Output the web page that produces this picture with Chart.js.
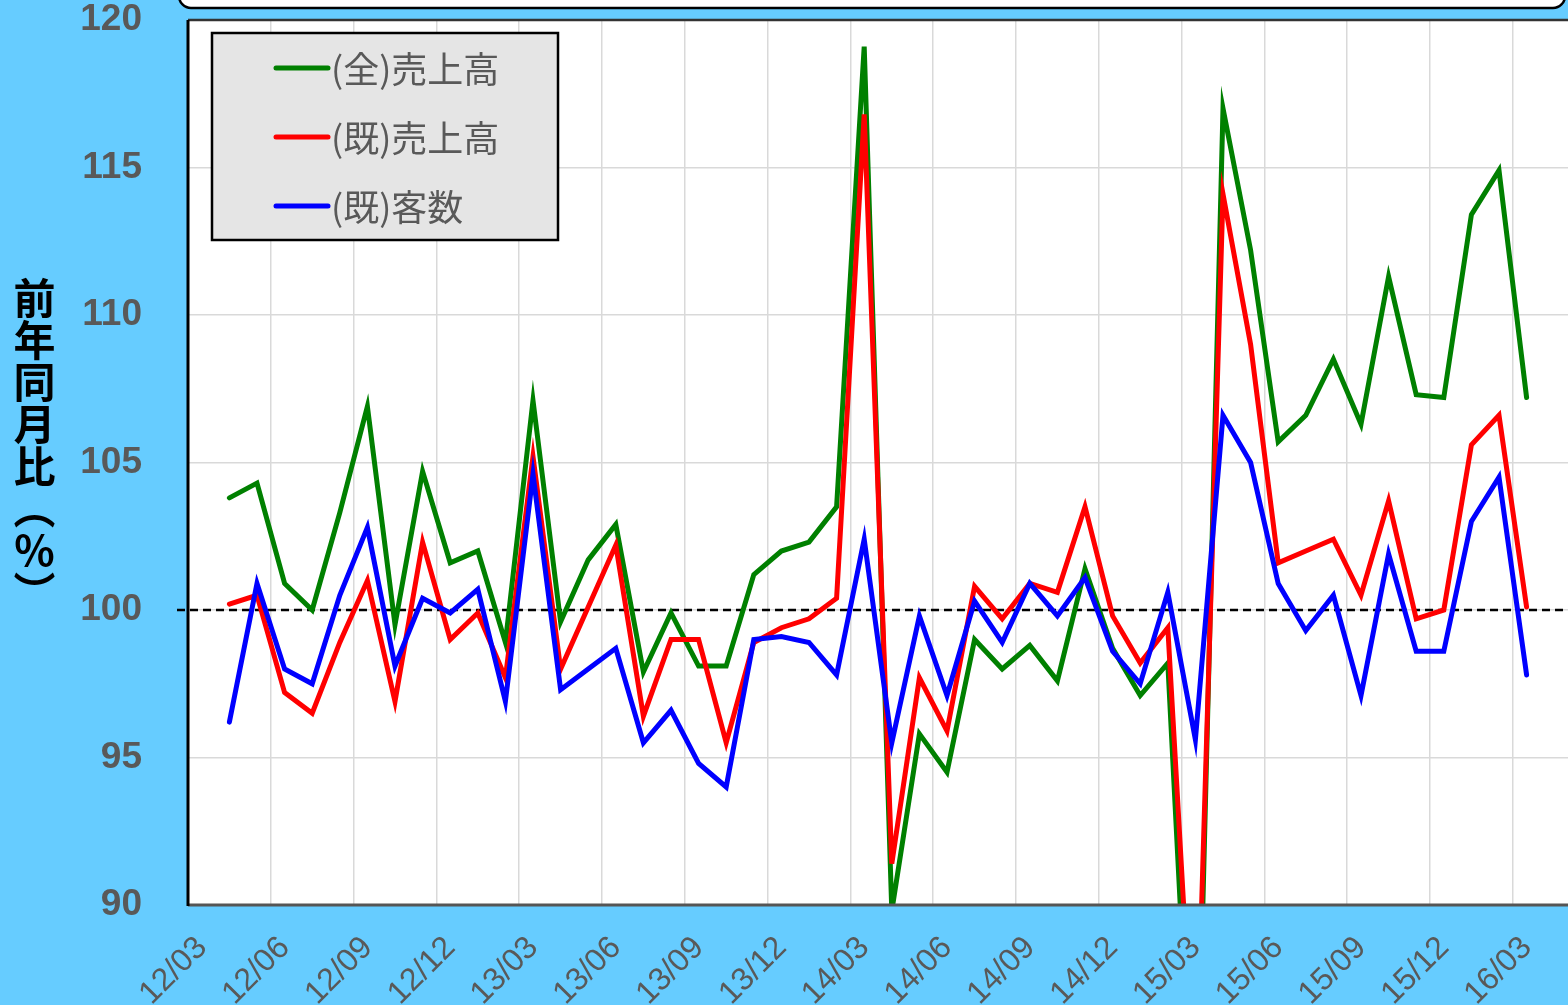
<!DOCTYPE html>
<html lang="ja">
<head>
<meta charset="utf-8">
<title>前年同月比</title>
<script src="https://cdn.jsdelivr.net/npm/chart.js@4.4.1/dist/chart.umd.min.js"></script>
<style>
    body { margin: 0; background: #66CCFF; }
    #wrap { position: relative; width: 1568px; height: 1005px; overflow: hidden; }
    #yTitle {
        position: absolute;
        left: 13px;
        top: 277px;
        font-family: "Noto Sans CJK JP", sans-serif;
        font-weight: bold;
        font-size: 42px;
        line-height: 1;
        color: #000;
        writing-mode: vertical-rl;
        text-orientation: upright;
    }
</style>
</head>
<body>
<div id="wrap">
    <canvas id="salesChart" width="1568" height="1005"></canvas>
    <div id="yTitle">前年同月比（%）</div>
</div>
<script>
// months shown on the chart (12/04 .. 16/03)
const months = [
    '12/04', '12/05', '12/06', '12/07', '12/08', '12/09', '12/10', '12/11', '12/12', '13/01', '13/02', '13/03',
    '13/04', '13/05', '13/06', '13/07', '13/08', '13/09', '13/10', '13/11', '13/12', '14/01', '14/02', '14/03',
    '14/04', '14/05', '14/06', '14/07', '14/08', '14/09', '14/10', '14/11', '14/12', '15/01', '15/02', '15/03',
    '15/04', '15/05', '15/06', '15/07', '15/08', '15/09', '15/10', '15/11', '15/12', '16/01', '16/02', '16/03'
];

// x axis tick labels, one every 3 months starting 12/03
const tickLabels = ['12/03', '12/06', '12/09', '12/12', '13/03', '13/06', '13/09', '13/12',
    '14/03', '14/06', '14/09', '14/12', '15/03', '15/06', '15/09', '15/12', '16/03'];

// (全)売上高
const allSales = [
    103.8, 104.3, 100.9, 100.0, 103.3, 106.9, 99.5, 104.7, 101.6, 102.0, 98.9, 107.1,
    99.6, 101.7, 102.9, 97.9, 99.9, 98.1, 98.1, 101.2, 102.0, 102.3, 103.5, 119.1,
    89.8, 95.8, 94.5, 99.0, 98.0, 98.8, 97.6, 101.4, 98.7, 97.1, 98.2, 80.0,
    117.0, 112.2, 105.7, 106.6, 108.5, 106.3, 111.3, 107.3, 107.2, 113.4, 114.9, 107.2
];

// (既)売上高
const existingSales = [
    100.2, 100.5, 97.2, 96.5, 98.9, 101.0, 96.9, 102.3, 99.0, 99.9, 97.7, 105.2,
    98.0, 100.1, 102.2, 96.4, 99.0, 99.0, 95.5, 98.9, 99.4, 99.7, 100.4, 116.8,
    91.4, 97.7, 95.9, 100.8, 99.7, 100.9, 100.6, 103.5, 99.8, 98.2, 99.4, 83.0,
    114.1, 109.0, 101.6, 102.0, 102.4, 100.5, 103.7, 99.7, 100.0, 105.6, 106.6, 100.1
];

// (既)客数
const existingCustomers = [
    96.2, 100.9, 98.0, 97.5, 100.5, 102.8, 98.1, 100.4, 99.9, 100.7, 96.9, 104.6,
    97.3, 98.0, 98.7, 95.5, 96.6, 94.8, 94.0, 99.0, 99.1, 98.9, 97.8, 102.4,
    95.5, 99.8, 97.1, 100.3, 98.9, 100.9, 99.8, 101.1, 98.6, 97.5, 100.6, 95.6,
    106.6, 105.0, 100.9, 99.3, 100.5, 97.1, 101.9, 98.6, 98.6, 103.0, 104.5, 97.8
];

const seriesNames = ['(全)売上高', '(既)売上高', '(既)客数'];
const seriesColors = ['#008000', '#FF0000', '#0000FF'];

// month index counted from 12/03; each point sits in the middle of its month
function toPoints(values) {
    return values.map((v, i) => ({ x: i + 1.5, y: v, month: months[i] }));
}

// Plugin: background pieces, reference line at 100, borders and the legend box
const decorations = {
    id: 'decorations',
    beforeDraw(chart) {
        const ctx = chart.ctx;
        const area = chart.chartArea;
        ctx.save();
        ctx.fillStyle = '#66CCFF';
        ctx.fillRect(0, 0, chart.width, chart.height);

        // title box cut off at the top
        ctx.fillStyle = '#FFFFFF';
        ctx.strokeStyle = '#000000';
        ctx.lineWidth = 2.5;
        ctx.beginPath();
        ctx.roundRect(179, -30, 1386, 38, 12);
        ctx.fill();
        ctx.stroke();

        ctx.fillStyle = '#FFFFFF';
        ctx.fillRect(area.left, area.top, area.right - area.left, area.bottom - area.top);
        ctx.restore();
    },
    beforeDatasetsDraw(chart) {
        const ctx = chart.ctx;
        const area = chart.chartArea;
        const y = chart.scales.y.getPixelForValue(100);
        ctx.save();
        ctx.strokeStyle = '#000000';
        ctx.lineWidth = 2.5;
        ctx.setLineDash([8, 5]);
        ctx.beginPath();
        ctx.moveTo(area.left - 11, y);
        ctx.lineTo(area.right, y);
        ctx.stroke();
        ctx.restore();
    },
    afterDraw(chart) {
        const ctx = chart.ctx;
        const area = chart.chartArea;
        ctx.save();

        // plot borders
        ctx.lineWidth = 2.5;
        ctx.strokeStyle = '#333333';
        ctx.beginPath();
        ctx.moveTo(area.left, area.top);
        ctx.lineTo(area.right, area.top);
        ctx.stroke();
        ctx.strokeStyle = '#555555';
        ctx.lineWidth = 3;
        ctx.beginPath();
        ctx.moveTo(area.left, area.bottom);
        ctx.lineTo(area.right, area.bottom);
        ctx.stroke();
        ctx.strokeStyle = '#000000';
        ctx.beginPath();
        ctx.moveTo(area.left, area.top);
        ctx.lineTo(area.left, area.bottom + 1);
        ctx.stroke();

        // legend box
        const boxX = 212, boxY = 33, boxW = 346, boxH = 207;
        ctx.fillStyle = '#E5E5E5';
        ctx.fillRect(boxX, boxY, boxW, boxH);
        ctx.strokeStyle = '#000000';
        ctx.lineWidth = 2.5;
        ctx.strokeRect(boxX, boxY, boxW, boxH);

        ctx.font = '36px "Noto Sans CJK JP", sans-serif';
        ctx.textBaseline = 'middle';
        ctx.textAlign = 'left';
        seriesNames.forEach((name, i) => {
            const cy = 68 + i * 69;
            ctx.strokeStyle = seriesColors[i];
            ctx.lineWidth = 5;
            ctx.lineCap = 'round';
            ctx.beginPath();
            ctx.moveTo(276, cy);
            ctx.lineTo(328, cy);
            ctx.stroke();
            ctx.fillStyle = '#595959';
            ctx.fillText(name, 331, cy + 1);
        });
        ctx.restore();
    }
};

const seriesValues = [allSales, existingSales, existingCustomers];

const ctx = document.getElementById('salesChart').getContext('2d');
const salesChart = new Chart(ctx, {
    type: 'line',
    data: {
        datasets: seriesNames.map((name, i) => ({
            label: name,
            data: toPoints(seriesValues[i]),
            borderColor: seriesColors[i],
            backgroundColor: seriesColors[i],
            borderWidth: 5,
            pointRadius: 0,
            tension: 0,
            borderJoinStyle: 'miter',
            borderCapStyle: 'round',
            clip: 0,
            order: 3 - i   // blue on top, green at the bottom
        }))
    },
    options: {
        responsive: false,
        animation: false,
        devicePixelRatio: 1,
        layout: { padding: { top: 20, left: 0, right: 0, bottom: 0 } },
        plugins: {
            legend: { display: false },
            tooltip: { enabled: false }
        },
        scales: {
            x: {
                type: 'linear',
                min: 0,
                max: 50,
                afterBuildTicks: axis => {
                    axis.ticks = tickLabels.map((label, i) => ({ value: i * 3 }));
                },
                afterFit: axis => {
                    axis.height = 100;
                    axis.paddingLeft = 0;
                    axis.paddingRight = 0;
                },
                grid: { color: '#D9D9D9', lineWidth: 1.5, drawTicks: false },
                border: { display: false },
                ticks: {
                    callback: (value, index) => tickLabels[index],
                    autoSkip: false,
                    minRotation: 45,
                    maxRotation: 45,
                    padding: 24,
                    labelOffset: 14,
                    color: '#595959',
                    font: { family: '"Liberation Sans", Arial, sans-serif', size: 32 }
                }
            },
            y: {
                min: 90,
                max: 120,
                afterFit: axis => {
                    axis.width = 188;
                    axis.paddingTop = 0;
                    axis.paddingBottom = 0;
                },
                grid: { color: '#D9D9D9', lineWidth: 1.5, drawTicks: false },
                border: { display: false },
                ticks: {
                    stepSize: 5,
                    padding: 46,
                    color: '#595959',
                    font: { family: '"Liberation Sans", Arial, sans-serif', size: 37, weight: 'bold' }
                }
            }
        }
    },
    plugins: [decorations]
});
</script>
</body>
</html>
